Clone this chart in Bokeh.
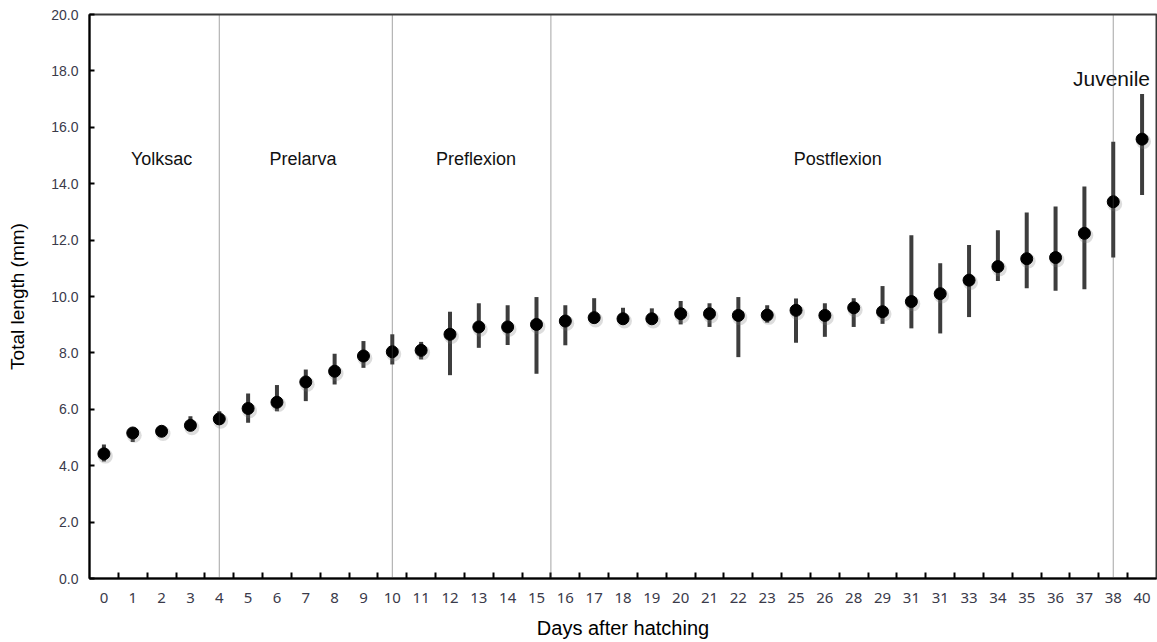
from bokeh.plotting import figure
from bokeh.models import FixedTicker, Span, ColumnDataSource, Range1d, NumeralTickFormatter
from bokeh.core.properties import value
from bokeh.transform import dodge
from bokeh.embed import file_html
from bokeh.resources import INLINE

# ---- data ----
days = ["0", "1", "2", "3", "4", "5", "6", "7", "8", "9", "10", "11", "12", "13", "14", "15",
        "16", "17", "18", "19", "20", "21", "22", "23", "25", "26", "28", "29", "31", "31",
        "33", "34", "35", "36", "37", "38", "40"]
mean_len = [4.42, 5.16, 5.22, 5.43, 5.66, 6.03, 6.25, 6.97, 7.35, 7.89,
            8.04, 8.09, 8.66, 8.92, 8.92, 9.01, 9.13, 9.25, 9.21, 9.21,
            9.39, 9.39, 9.33, 9.34, 9.51, 9.33, 9.60, 9.46, 9.82, 10.10,
            10.58, 11.06, 11.34, 11.38, 12.24, 13.36, 15.58]
upper_len = [4.75, 5.34, 5.32, 5.75, 5.93, 6.56, 6.86, 7.41, 7.97, 8.42,
             8.66, 8.39, 9.46, 9.76, 9.69, 9.98, 9.69, 9.94, 9.60, 9.58,
             9.84, 9.76, 9.98, 9.69, 9.93, 9.76, 9.94, 10.37, 12.17, 11.18,
             11.83, 12.35, 12.98, 13.19, 13.90, 15.49, 17.18]
lower_len = [4.15, 4.84, 5.12, 5.30, 5.45, 5.52, 5.93, 6.29, 6.88, 7.47,
             7.59, 7.77, 7.21, 8.18, 8.28, 7.26, 8.27, 9.07, 9.05, 9.07,
             9.01, 8.92, 7.85, 9.07, 8.36, 8.57, 8.92, 9.03, 8.87, 8.69,
             9.27, 10.55, 10.29, 10.20, 10.26, 11.38, 13.60]
y_ticks = [0, 2, 4, 6, 8, 10, 12, 14, 16, 18, 20]

stage_names = ["Yolksac", "Prelarva", "Preflexion", "Postflexion"]
stage_label_x = [2.0, 6.9, 12.9, 25.45]
stage_label_y = [14.88, 14.88, 14.88, 14.88]
juvenile_name = ["Juvenile"]
juvenile_x = [34.94]
juvenile_y = [17.74]

# ---- build ----
n = len(days)
xs = list(range(n))
src = ColumnDataSource(dict(x=xs, m=mean_len, lo=lower_len, hi=upper_len))

p = figure(width=1157, height=642, output_backend="svg", toolbar_location=None,
           x_range=Range1d(-0.5, n - 0.5), y_range=Range1d(0, 20),
           min_border_left=89, min_border_right=1, min_border_top=14, min_border_bottom=64)
p.grid.visible = False
p.outline_line_color = "#3a3a3a"
p.outline_line_width = 2
p.background_fill_color = "white"
p.border_fill_color = "white"

# stage boundary lines
bounds = [days.index("4"), days.index("10"), (days.index("15") + days.index("16")) / 2, days.index("38")]
for b in bounds:
    p.add_layout(Span(location=b, dimension="height", line_color="#4a4a4a",
                      line_width=1, line_dash="1 1"))

# error bars
p.segment(x0="x", y0="lo", x1="x", y1="hi", source=src, line_color="#3d3d3d", line_width=4)
# soft shadow
p.scatter(x=dodge("x", 0.05, range=p.x_range), y=dodge("m", -0.08, range=p.y_range),
          source=src, size=15, fill_color="#777777", fill_alpha=0.25, line_alpha=0.0)
p.scatter(x="x", y="m", source=src, size=12, fill_color="black", line_color="black")

# stage labels
p.text(x=stage_label_x, y=stage_label_y, text=stage_names, text_font=value("Liberation Sans"),
       text_font_size="18px", text_align="center", text_baseline="middle", text_color="#111111")
p.text(x=juvenile_x, y=juvenile_y, text=juvenile_name, text_font=value("Liberation Sans"),
       text_font_size="21px", text_align="center", text_baseline="middle", text_color="#111111")

# x axis
xa = p.xaxis[0]
xa.ticker = FixedTicker(ticks=xs, minor_ticks=[i + 0.5 for i in range(n - 1)])
xa.major_label_overrides = {i: d for i, d in enumerate(days)}
xa.major_tick_in = 0
xa.major_tick_out = 0
xa.minor_tick_in = 6
xa.minor_tick_out = 0
xa.minor_tick_line_width = 2
xa.minor_tick_line_color = "black"
xa.axis_line_width = 2
xa.axis_line_color = "black"
xa.major_label_text_font = "Noto Sans"
xa.major_label_text_font_size = "15px"
xa.major_label_text_color = "#3a3a4a"
xa.major_label_standoff = 14
xa.axis_label = "Days after hatching"
xa.axis_label_text_font = "Liberation Sans"
xa.axis_label_text_font_size = "20px"
xa.axis_label_text_font_style = "normal"
xa.axis_label_text_color = "black"
xa.axis_label_standoff = 11

# y axis
ya = p.yaxis[0]
ya.ticker = FixedTicker(ticks=y_ticks)
ya.formatter = NumeralTickFormatter(format="0.0")
ya.major_tick_in = 5
ya.major_tick_out = 0
ya.major_tick_line_width = 2
ya.minor_tick_in = 0
ya.minor_tick_out = 0
ya.axis_line_width = 2
ya.axis_line_color = "black"
ya.major_label_text_font = "Liberation Sans"
ya.major_label_text_font_size = "14px"
ya.major_label_text_color = "#3a3a4a"
ya.major_label_standoff = 11
ya.axis_label = "Total length (mm)"
ya.axis_label_text_font = "Liberation Sans"
ya.axis_label_text_font_size = "19px"
ya.axis_label_text_font_style = "normal"
ya.axis_label_text_color = "black"
ya.axis_label_standoff = 20

open("out.html", "w").write(file_html(p, INLINE))
